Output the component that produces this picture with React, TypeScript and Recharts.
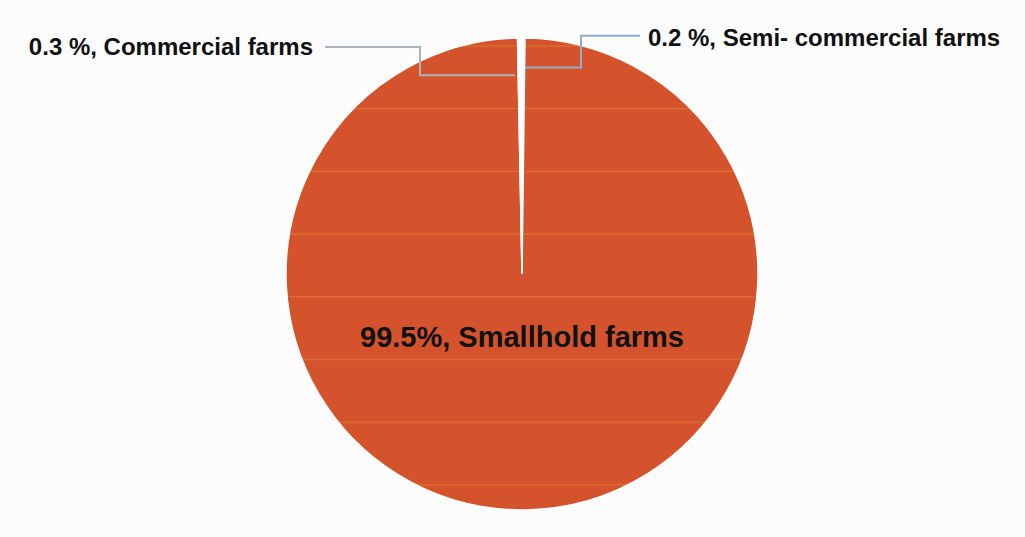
import React from "react";
import { PieChart, Pie, Cell } from "recharts";

const categories = ["Semi- commercial farms", "Smallhold farms", "Commercial farms"];
const shares = [0.2, 99.5, 0.3];
const shareLabels = ["0.2 %", "99.5%", "0.3 %"];
const sliceColors = ["#ffffff", "#D4532D", "#ffffff"];

const data = categories.map((name, i) => ({ name, value: shares[i], label: shareLabels[i] }));

const FONT = "'Liberation Sans', Arial, sans-serif";

const renderLabel = (props: any) => {
  const { cx, cy, outerRadius, index } = props;
  const text = `${data[index].label}, ${data[index].name}`;
  const r = outerRadius;
  if (index === 1) {
    return (
      <text x={cx} y={cy + r * 0.265} textAnchor="middle" dominantBaseline="central"
        fontFamily={FONT} fontWeight="bold" fontSize={29} fill="#111">
        {text}
      </text>
    );
  }
  if (index === 0) {
    // semi-commercial: to the right of the top
    const x0 = cx + 3, y0 = cy - r * 0.875;
    const x1 = cx + 59, y1 = cy - r * 1.01;
    const x2 = cx + 118;
    return (
      <g>
        <polyline points={`${x0},${y0} ${x1},${y0} ${x1},${y1} ${x2},${y1}`}
          fill="none" stroke="#8fb0c8" strokeWidth={2} />
        <text x={x2 + 8} y={y1 + 2} textAnchor="start" dominantBaseline="central"
          fontFamily={FONT} fontWeight="bold" fontSize={24} fill="#111">
          {text}
        </text>
      </g>
    );
  }
  // commercial: to the left of the top
  const x0 = cx - 7, y0 = cy - r * 0.842;
  const x1 = cx - 102, y1 = cy - r * 0.962;
  const x2 = cx - 197;
  return (
    <g>
      <polyline points={`${x0},${y0} ${x1},${y0} ${x1},${y1} ${x2},${y1}`}
        fill="none" stroke="#a9b4b8" strokeWidth={2} />
      <text x={x2 - 12} y={y1} textAnchor="end" dominantBaseline="central"
        fontFamily={FONT} fontWeight="bold" fontSize={24} fill="#111">
        {text}
      </text>
    </g>
  );
};

export default function App() {
  return (
    <div style={{ position: "absolute", left: 0, top: 0, width: 1025, height: 537, background: "#fcfcfc" }}>
      <PieChart width={1025} height={537}>
        <defs>
          <pattern id="scanStripes" patternUnits="userSpaceOnUse" x={0} y={108} width={1025} height={62.7}>
            <rect x={0} y={0} width={1025} height={62.7} fill="#D4532D" />
            <rect x={0} y={0} width={1025} height={1.2} fill="#E4872F" opacity={0.6} />
          </pattern>
        </defs>
        <Pie
          data={data}
          dataKey="value"
          nameKey="name"
          cx={517}
          cy={269}
          outerRadius={236}
          startAngle={90}
          endAngle={-270}
          stroke="#ffffff"
          strokeWidth={1.5}
          isAnimationActive={false}
          label={renderLabel}
          labelLine={false}
        >
          {data.map((d, i) => (
            <Cell key={d.name} fill={i === 1 ? "url(#scanStripes)" : sliceColors[i]} />
          ))}
        </Pie>
      </PieChart>
    </div>
  );
}
